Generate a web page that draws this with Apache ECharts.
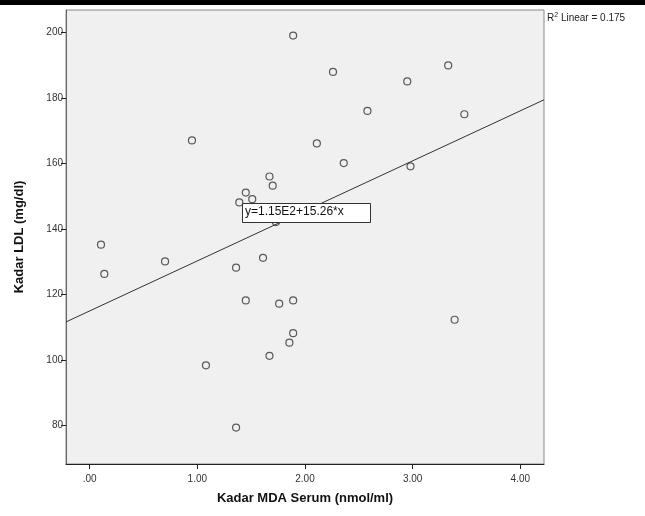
<!DOCTYPE html>
<html><head><meta charset="utf-8">
<script src="https://cdn.jsdelivr.net/npm/echarts@6/dist/echarts.min.js"></script>
<style>html,body{margin:0;padding:0;background:#fff}#c{width:645px;height:516px}</style>
</head><body><div id="c"></div>
<script>
// MDA serum (x) vs LDL (y)
const mdaValues = [1.89,0.95,1.67,1.70,1.45,1.51,1.39,1.73,0.105,2.26,3.33,2.95,2.58,3.48,2.11,2.36,2.98,0.136,0.70,1.36,1.61,1.45,1.76,1.89,1.89,1.855,1.67,1.08,1.36,3.39];
const ldlValues = [199,167,156,153.2,151.1,149.1,148.1,142.1,135.2,187.9,189.9,185,176,175,166.1,160.1,159.1,126.3,130.1,128.2,131.2,118.2,117.2,118.2,108.2,105.3,101.3,98.4,79.4,112.3];
const xTicks = [0,1,2,3,4];
const yTicks = [80,100,120,140,160,180,200];
const fitIntercept = 115;   // y = 1.15E2 + 15.26*x
const fitSlope = 15.26;
const xRange = [-0.22, 4.22];
const yRange = [68.3, 206.8];

const pts = mdaValues.map((x,i)=>[x, ldlValues[i]]);
const fitLine = xRange.map(x=>[x, fitIntercept + fitSlope*x]);

const chart = echarts.init(document.getElementById('c'), null, {renderer:'canvas'});
const font = '"Liberation Sans", "DejaVu Sans", sans-serif';
chart.setOption({
  animation:false,
  grid:{left:66,right:101,top:10,bottom:52,show:true,backgroundColor:'#f0f0f0',borderColor:'#888',borderWidth:1},
  xAxis:{type:'value',min:xRange[0],max:xRange[1],
    name:'Kadar MDA Serum (nmol/ml)',nameLocation:'middle',nameGap:28,
    nameTextStyle:{fontFamily:font,fontSize:13,fontWeight:'bold',color:'#111'},
    axisLine:{show:true,onZero:false,lineStyle:{color:'#222',width:1}},
    axisTick:{show:true,length:5,lineStyle:{color:'#222'},customValues:xTicks},
    axisLabel:{customValues:xTicks,fontFamily:font,fontSize:10,color:'#333',margin:10,
      formatter:v=>{let s=v.toFixed(2);return s.startsWith('0')?s.slice(1):s;}},
    splitLine:{show:false}},
  yAxis:{type:'value',min:yRange[0],max:yRange[1],
    name:'Kadar LDL (mg/dl)',nameLocation:'middle',nameGap:40,
    nameTextStyle:{fontFamily:font,fontSize:13,fontWeight:'bold',color:'#111'},
    axisLine:{show:true,onZero:false,lineStyle:{color:'#666',width:1}},
    axisTick:{show:true,length:5,lineStyle:{color:'#222'},customValues:yTicks},
    axisLabel:{customValues:yTicks,fontFamily:font,fontSize:10,color:'#333',margin:3},
    splitLine:{show:false}},
  series:[
    {type:'line',data:fitLine,symbol:'none',lineStyle:{color:'#333',width:1},z:2,silent:true},
    {type:'scatter',data:pts,symbol:'circle',symbolSize:7,
      itemStyle:{color:'rgba(0,0,0,0)',borderColor:'#333',borderWidth:1.2},z:3}
  ],
  graphic:[
    {type:'rect',left:0,top:0,shape:{width:645,height:5},style:{fill:'#000'}},
    {type:'rect',left:242,top:203,shape:{width:128,height:19},style:{fill:'#fff',stroke:'#333',lineWidth:1},z:10},
    {type:'text',left:245,top:206,style:{text:'y=1.15E2+15.26*x',fontFamily:font,fontSize:12,fill:'#111'},z:11},
    {type:'text',left:547,top:12,style:{text:'{a|R}{s|2}{a| Linear = 0.175}',fontFamily:font,
      rich:{a:{fontSize:10,fill:'#222',fontFamily:font},s:{fontSize:7,fill:'#222',verticalAlign:'top',fontFamily:font,padding:[0,0,5,0]}}}}
  ]
});
</script></body></html>
